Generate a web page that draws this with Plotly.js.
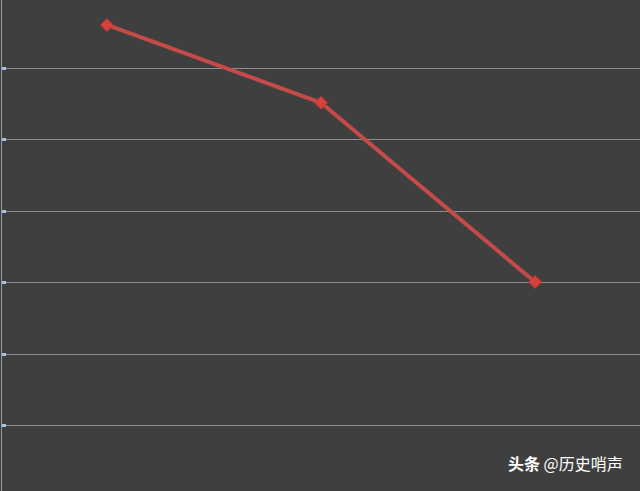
<!DOCTYPE html>
<html>
<head>
<meta charset="utf-8">
<script src="https://cdn.plot.ly/plotly-3.0.1.min.js"></script>
<style>
  html, body { margin: 0; padding: 0; background: #3f3f3f; }
  #chart { width: 640px; height: 491px; }
</style>
</head>
<body>
<div id="chart"></div>
<script>
// values (no labels visible, scale estimated)
const categories = ['阶段一', '阶段二', '阶段三'];
const values = [66.1, 55.2, 30.1];
const gridValues = [10, 20, 30, 40, 50, 60];

const trace = {
    x: categories,
    y: values,
    type: 'scatter',
    mode: 'lines+markers',
    line: { color: '#c44b48', width: 4 },
    marker: {
        symbol: 'diamond',
        size: 10,
        color: '#d8403d',
        line: { color: '#b33532', width: 1 }
    },
    hoverinfo: 'x+y'
};

const layout = {
    width: 640,
    height: 491,
    paper_bgcolor: '#3f3f3f',
    plot_bgcolor: '#3f3f3f',
    margin: { l: 2, r: 0, t: 0, b: 0 },
    showlegend: false,
    xaxis: {
        type: 'category',
        range: [-0.49, 2.49],
        showgrid: false,
        showticklabels: false,
        zeroline: false,
        ticks: ''
    },
    yaxis: {
        range: [0.83, 69.6],
        tickvals: gridValues,
        showticklabels: false,
        showgrid: true,
        gridcolor: '#8e8e8e',
        gridwidth: 1,
        zeroline: false,
        showline: true,
        linecolor: '#9a9a9a',
        linewidth: 1,
        ticks: 'inside',
        ticklen: 4,
        tickwidth: 3,
        tickcolor: '#a9c3df'
    },
    annotations: [{
        text: '<b>头条</b> @历史哨声',
        xref: 'paper',
        yref: 'paper',
        x: 0.977,
        y: 0.057,
        xanchor: 'right',
        yanchor: 'middle',
        showarrow: false,
        font: { family: 'Noto Sans CJK SC', size: 16, color: '#ffffff' }
    }]
};

Plotly.newPlot('chart', [trace], layout, { displayModeBar: false, staticPlot: true });
</script>
</body>
</html>
